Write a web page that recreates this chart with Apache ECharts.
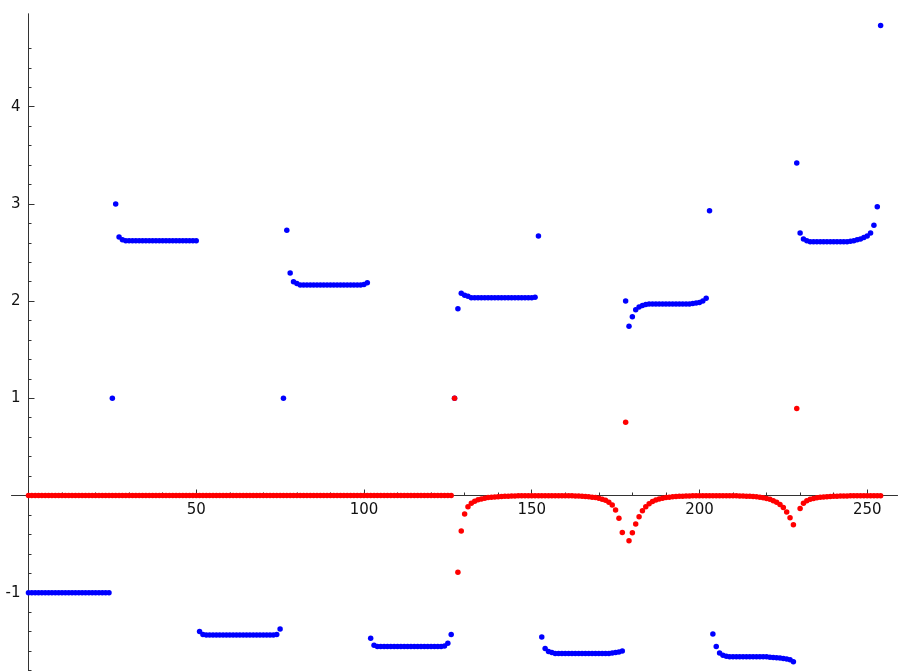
<!DOCTYPE html>
<html><head><meta charset="utf-8">
<script src="https://cdn.jsdelivr.net/npm/echarts@6/dist/echarts.min.js"></script>
<style>html,body{margin:0;padding:0;background:#fff;}#c{width:901px;height:671px;}</style>
</head><body><div id="c"></div>
<script>
const xMajorTicks = [50, 100, 150, 200, 250];
const xMinorTicks = [10,20,30,40,60,70,80,90,110,120,130,140,160,170,180,190,210,220,230,240];
const yMajorTicks = [-1, 1, 2, 3, 4];
const yMinorTicks = [-1.8,-1.6,-1.4,-1.2,-0.8,-0.6,-0.4,-0.2,0.2,0.4,0.6,0.8,1.2,1.4,1.6,1.8,2.2,2.4,2.6,2.8,3.2,3.4,3.6,3.8,4.2,4.4,4.6];

const blueValues = [
  // 0-24
  -1,-1,-1,-1,-1,-1,-1,-1,-1,-1,-1,-1,-1,-1,-1,-1,-1,-1,-1,-1,-1,-1,-1,-1,-1,
  // 25-50
  1,3.0,2.66,2.63,
  2.62,2.62,2.62,2.62,2.62,2.62,2.62,2.62,2.62,2.62,2.62,2.62,2.62,2.62,2.62,2.62,2.62,2.62,2.62,2.62,2.62,2.62,
  // 51-75
  -1.40,-1.43,
  -1.435,-1.435,-1.435,-1.435,-1.435,-1.435,-1.435,-1.435,-1.435,-1.435,-1.435,-1.435,-1.435,-1.435,-1.435,-1.435,-1.435,-1.435,-1.435,-1.435,-1.435,
  -1.43,-1.375,
  // 76-101
  1,2.73,2.29,2.20,2.18,
  2.165,2.165,2.165,2.165,2.165,2.165,2.165,2.165,2.165,2.165,2.165,2.165,2.165,2.165,2.165,2.165,2.165,2.165,2.165,
  2.17,2.19,
  // 102-126
  -1.47,-1.54,
  -1.555,-1.555,-1.555,-1.555,-1.555,-1.555,-1.555,-1.555,-1.555,-1.555,-1.555,-1.555,-1.555,-1.555,-1.555,-1.555,-1.555,-1.555,-1.555,-1.555,
  -1.55,-1.52,-1.43,
  // 127-152
  1,1.92,2.08,2.06,2.05,
  2.035,2.035,2.035,2.035,2.035,2.035,2.035,2.035,2.035,2.035,2.035,2.035,2.035,2.035,2.035,2.035,2.035,2.035,2.035,
  2.04,2.67,
  // 153-177
  -1.455,-1.575,-1.605,-1.615,
  -1.625,-1.625,-1.625,-1.625,-1.625,-1.625,-1.625,-1.625,-1.625,-1.625,-1.625,-1.625,-1.625,-1.625,-1.625,-1.625,-1.625,
  -1.62,-1.615,-1.61,-1.60,
  // 178-203
  2.0,1.74,1.84,1.91,1.94,1.955,1.965,
  1.97,1.97,1.97,1.97,1.97,1.97,1.97,1.97,1.97,1.97,1.97,1.97,1.97,
  1.975,1.98,1.985,2.0,2.03,2.93,
  // 204-228
  -1.425,-1.555,-1.62,-1.645,-1.655,
  -1.66,-1.66,-1.66,-1.66,-1.66,-1.66,-1.66,-1.66,-1.66,-1.66,-1.66,-1.66,
  -1.665,-1.668,-1.67,-1.673,-1.677,-1.682,-1.69,-1.71,
  // 229-254
  3.42,2.70,2.64,2.62,
  2.61,2.61,2.61,2.61,2.61,2.61,2.61,2.61,2.61,2.61,2.61,2.61,
  2.615,2.62,2.63,2.64,2.655,2.67,2.70,2.78,2.97,4.835
];

const redValues = [
  // 0-126
  0,0,0,0,0,0,0,0,0,0, 0,0,0,0,0,0,0,0,0,0, 0,0,0,0,0,0,0,0,0,0, 0,0,0,0,0,0,0,0,0,0,
  0,0,0,0,0,0,0,0,0,0, 0,0,0,0,0,0,0,0,0,0, 0,0,0,0,0,0,0,0,0,0, 0,0,0,0,0,0,0,0,0,0,
  0,0,0,0,0,0,0,0,0,0, 0,0,0,0,0,0,0,0,0,0, 0,0,0,0,0,0,0,0,0,0, 0,0,0,0,0,0,0,0,0,0,
  0,0,0,0,0,0,0,
  // 127-150
  1.0,-0.79,-0.365,-0.19,-0.115,-0.08,-0.06,-0.045,-0.035,-0.028,-0.022,-0.018,-0.015,-0.012,-0.01,-0.008,-0.007,-0.006,-0.005,-0.004,-0.003,-0.003,-0.002,-0.002,
  // 151-177
  -0.002,-0.002,-0.002,-0.002,-0.002,-0.002,-0.002,-0.002,-0.002,
  -0.003,-0.003,-0.004,-0.005,-0.006,-0.008,-0.01,-0.013,-0.017,-0.022,-0.029,-0.038,-0.05,-0.07,-0.098,-0.149,-0.235,-0.38,
  // 178-198
  0.753,-0.465,-0.383,-0.293,-0.218,-0.156,-0.115,-0.085,-0.062,-0.047,-0.036,-0.028,-0.022,-0.018,-0.014,-0.011,-0.009,-0.007,-0.006,-0.005,-0.004,
  // 199-210
  -0.003,-0.003,-0.003,-0.003,-0.003,-0.003,-0.003,-0.003,-0.003,-0.003,-0.003,-0.003,
  // 211-228
  -0.004,-0.005,-0.006,-0.007,-0.009,-0.011,-0.014,-0.018,-0.023,-0.03,-0.04,-0.053,-0.07,-0.093,-0.125,-0.17,-0.23,-0.30,
  // 229-254
  0.894,-0.135,-0.08,-0.055,-0.04,-0.03,-0.024,-0.019,-0.015,-0.012,-0.01,-0.008,-0.007,-0.006,-0.005,-0.005,-0.004,-0.004,-0.003,-0.003,-0.003,-0.002,-0.002,-0.002,-0.002,-0.002
];

const AXIS_COLOR = '#333';
const FONT = '"DejaVu Sans", sans-serif';
const X_MIN = -5, X_MAX = 259, Y_MIN = -1.806, Y_MAX = 4.954;
// pixel geometry of the plotting frame
const G_LEFT = 11.7, G_RIGHT = 3.6, G_TOP = 14, G_BOTTOM = 0;
const ZERO_X_PX = 28.5;   // where x = 0 sits
const ZERO_Y_FROM_BOTTOM = 175.5; // distance of y = 0 from the bottom edge

const chart = echarts.init(document.getElementById('c'), null, {renderer: 'canvas'});

const hidden = {show: false};
function xAx(grid, ticks, len, labels, show) {
  return {
    type: 'value', position: 'bottom', min: X_MIN, max: X_MAX, gridIndex: grid, show: show,
    splitLine: hidden,
    axisLine: {show: true, onZero: false, lineStyle: {color: AXIS_COLOR, width: 1}},
    axisTick: {show: !!ticks, inside: true, length: len, customValues: ticks || [], lineStyle: {color: AXIS_COLOR, width: 1}},
    axisLabel: labels ? {show: true, customValues: ticks, margin: 7, color: '#111', fontFamily: FONT, fontSize: 15} : {show: false},
    minorTick: hidden
  };
}
function yAx(grid, ticks, len, labels, show) {
  return {
    type: 'value', position: 'left', min: Y_MIN, max: Y_MAX, gridIndex: grid, show: show,
    splitLine: hidden,
    axisLine: {show: true, onZero: false, lineStyle: {color: AXIS_COLOR, width: 1}},
    axisTick: {show: !!ticks, inside: true, length: len, customValues: ticks || [], lineStyle: {color: AXIS_COLOR, width: 1}},
    axisLabel: labels ? {show: true, customValues: ticks, margin: 8, color: '#111', fontFamily: FONT, fontSize: 15} : {show: false},
    minorTick: hidden
  };
}

chart.setOption({
  animation: false,
  backgroundColor: '#fff',
  grid: [
    // data grid
    {left: G_LEFT, right: G_RIGHT, top: G_TOP, bottom: G_BOTTOM, outerBoundsMode: 'none', containLabel: false},
    // horizontal axis frame: its bottom edge is the y = 0 line
    {left: G_LEFT, right: G_RIGHT, top: G_TOP, bottom: ZERO_Y_FROM_BOTTOM, outerBoundsMode: 'none', containLabel: false},
    // vertical axis frame: its left edge is the x = 0 line
    {left: ZERO_X_PX, right: G_RIGHT, top: G_TOP, bottom: G_BOTTOM, outerBoundsMode: 'none', containLabel: false}
  ],
  xAxis: [
    xAx(0, null, 0, false, false),
    xAx(1, xMajorTicks, 6, true, true),
    xAx(1, xMinorTicks, 3, false, true),
    xAx(2, null, 0, false, false)
  ],
  yAxis: [
    yAx(0, null, 0, false, false),
    yAx(1, null, 0, false, false),
    yAx(2, yMajorTicks, 6, true, true),
    yAx(2, yMinorTicks, 3, false, true)
  ],
  series: [
    {
      type: 'scatter', xAxisIndex: 0, yAxisIndex: 0, symbol: 'circle', symbolSize: 5.5,
      itemStyle: {color: '#0000ff', opacity: 1}, clip: false, z: 5,
      data: blueValues.map((v, i) => [i, v])
    },
    {
      type: 'scatter', xAxisIndex: 0, yAxisIndex: 0, symbol: 'circle', symbolSize: 5.5,
      itemStyle: {color: '#ff0000', opacity: 1}, clip: false, z: 6,
      data: redValues.map((v, i) => [i, v])
    }
  ]
});
</script></body></html>
